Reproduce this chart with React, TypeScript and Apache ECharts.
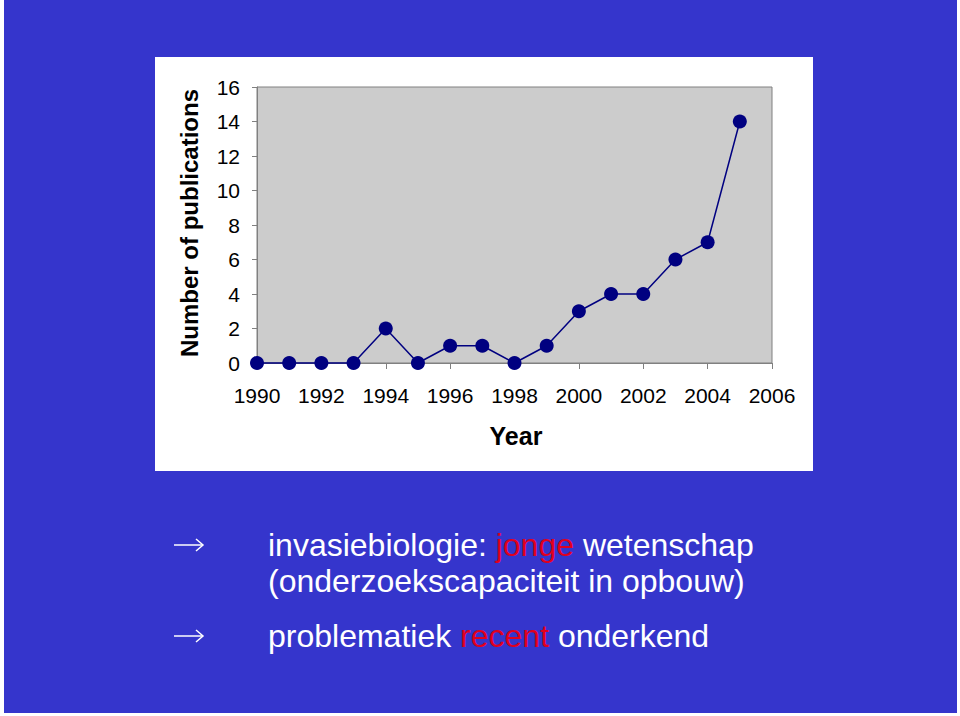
import React, { useEffect, useRef } from "react";
import * as echarts from "echarts";

const years = [1990, 1991, 1992, 1993, 1994, 1995, 1996, 1997, 1998, 1999, 2000, 2001, 2002, 2003, 2004, 2005];
const publications = [0, 0, 0, 0, 2, 0, 1, 1, 0, 1, 3, 4, 4, 6, 7, 14];
const yTitle = "Number of publications";
const xTitle = "Year";

export default function App() {
  const ref = useRef<HTMLDivElement>(null);
  useEffect(() => {
    const chart = echarts.init(ref.current!, null, { renderer: "svg" });
    const font = "Liberation Sans, Arial, sans-serif";
    const arrow = (y: number) => [
      { type: "line", shape: { x1: 174, y1: y, x2: 203, y2: y }, style: { stroke: "#fff", lineWidth: 1.5 } },
      { type: "polyline", shape: { points: [[196, y - 6], [203, y], [196, y + 6]] }, style: { stroke: "#fff", lineWidth: 1.5, fill: null } },
    ];
    chart.setOption({
      animation: false,
      backgroundColor: "#ffffff",
      graphic: [
        { type: "rect", z: -10, shape: { x: 4, y: 0, width: 953, height: 713 }, style: { fill: "#3535CC" } },
        { type: "rect", z: -9, shape: { x: 155, y: 57, width: 658, height: 414 }, style: { fill: "#ffffff" } },
        {
          type: "text", x: 189, y: 223, rotation: Math.PI / 2,
          style: { text: yTitle, font: `bold 24px ${font}`, fill: "#000", align: "center", verticalAlign: "middle" },
        },
        {
          type: "text", x: 516, y: 436,
          style: { text: xTitle, font: `bold 25px ${font}`, fill: "#000", align: "center", verticalAlign: "middle" },
        },
        ...arrow(545),
        ...arrow(636),
        {
          type: "text", x: 268, y: 545,
          style: {
            text: "{w|invasiebiologie: }{r|jonge}{w| wetenschap}",
            verticalAlign: "middle",
            rich: {
              w: { font: `32px ${font}`, fill: "#fff", color: "#fff" },
              r: { font: `32px ${font}`, fill: "#E0001E", color: "#E0001E" },
            },
          },
        },
        {
          type: "text", x: 268, y: 581,
          style: { text: "(onderzoekscapaciteit in opbouw)", font: `32px ${font}`, fill: "#fff", verticalAlign: "middle" },
        },
        {
          type: "text", x: 268, y: 636,
          style: {
            text: "{w|problematiek }{r|recent}{w| onderkend}",
            verticalAlign: "middle",
            rich: {
              w: { font: `32px ${font}`, fill: "#fff", color: "#fff" },
              r: { font: `32px ${font}`, fill: "#E0001E", color: "#E0001E" },
            },
          },
        },
      ],
      grid: {
        left: 257, top: 87, width: 515, height: 276,
        show: true, backgroundColor: "#CCCCCC", borderColor: "#808080", borderWidth: 1,
      },
      xAxis: {
        type: "value", min: 1990, max: 2006, interval: 2,
        axisLine: { show: true, lineStyle: { color: "#808080", width: 1 } },
        axisTick: { show: true, inside: false, length: 6, lineStyle: { color: "#808080" } },
        splitLine: { show: false },
        axisLabel: { color: "#000", fontSize: 21, fontFamily: font, margin: 22, formatter: (v: number) => String(v) },
      },
      yAxis: {
        type: "value", min: 0, max: 16, interval: 2,
        axisLine: { show: true, lineStyle: { color: "#808080", width: 1 } },
        axisTick: { show: true, inside: false, length: 5, lineStyle: { color: "#808080" } },
        splitLine: { show: false },
        axisLabel: { color: "#000", fontSize: 21, fontFamily: font, margin: 17 },
      },
      series: [
        {
          type: "line",
          data: years.map((y, i) => [y, publications[i]]),
          symbol: "circle",
          symbolSize: 14,
          lineStyle: { color: "#000080", width: 1.5 },
          itemStyle: { color: "#000080" },
          clip: false,
        },
      ],
    });
    return () => chart.dispose();
  }, []);
  return <div ref={ref} style={{ position: "fixed", left: 0, top: 0, width: 960, height: 716 }} />;
}
